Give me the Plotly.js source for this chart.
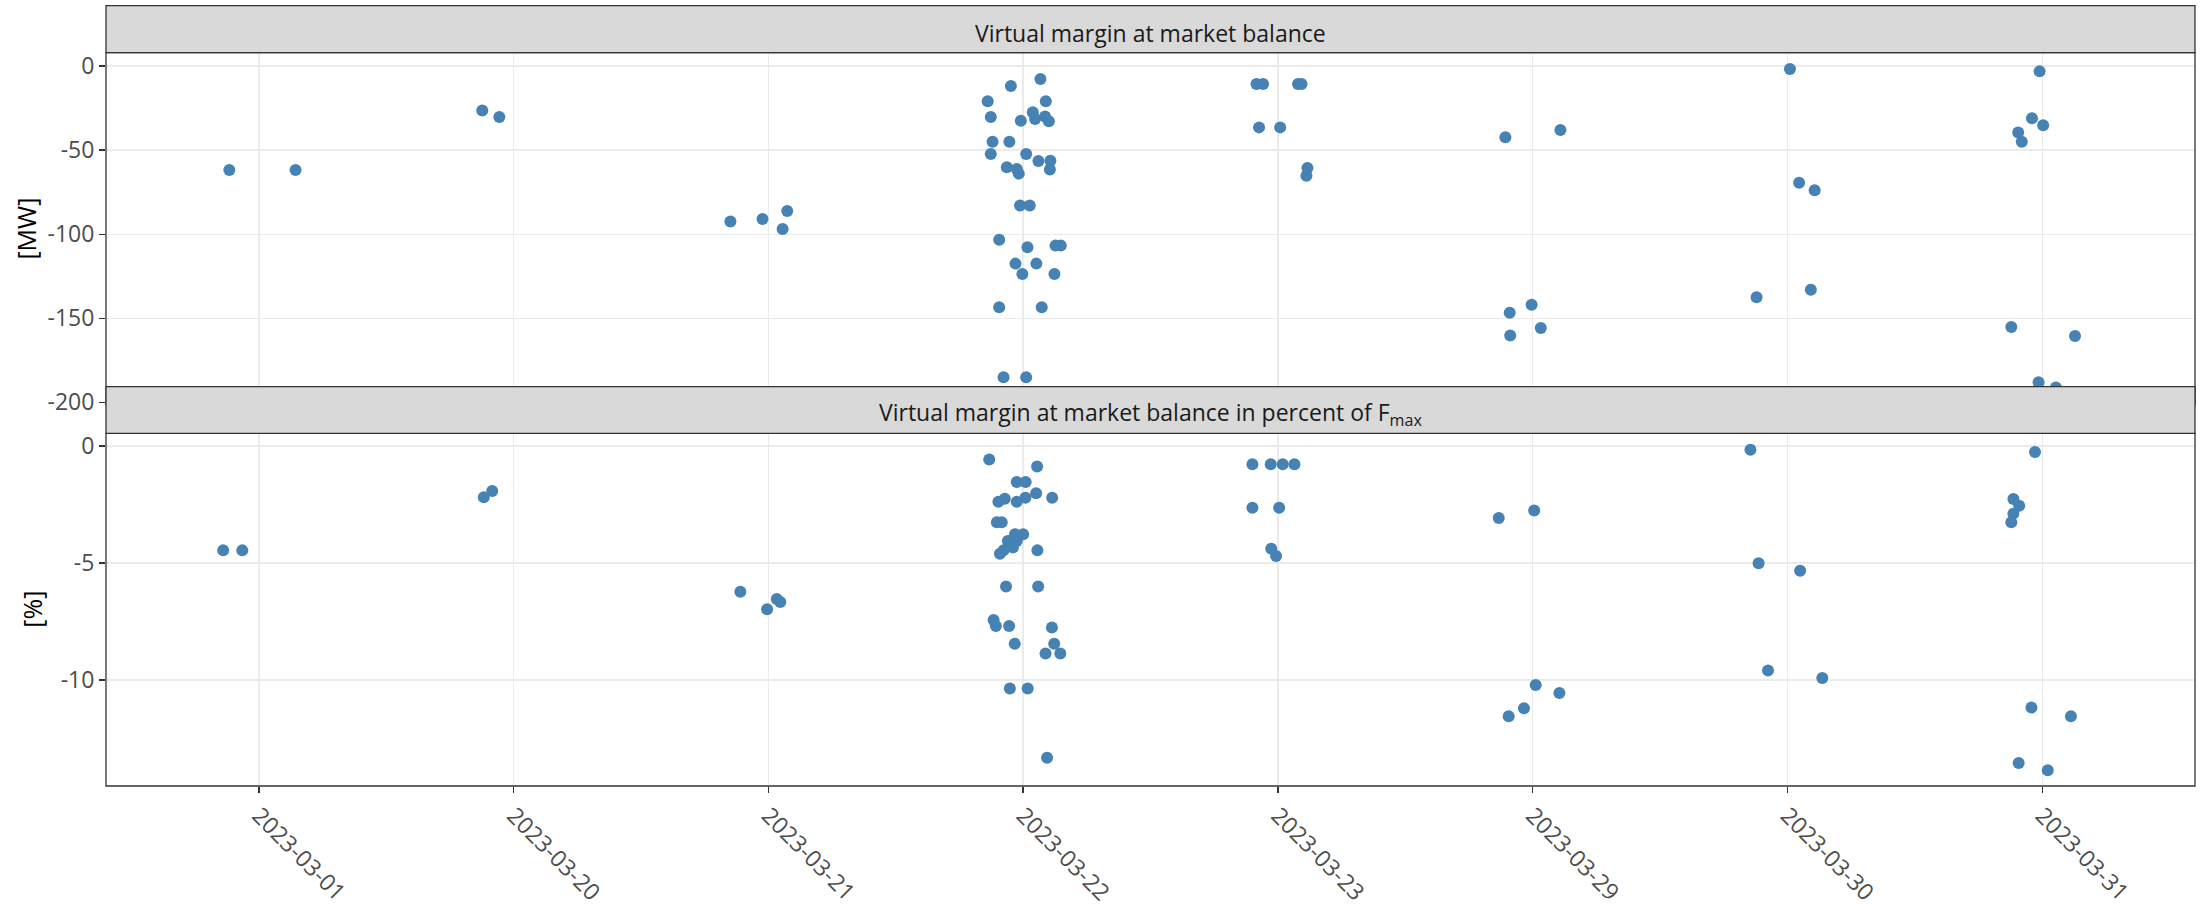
<!DOCTYPE html>
<html>
<head>
<meta charset="utf-8">
<script src="https://cdn.plot.ly/plotly-3.0.1.min.js"></script>
<style>
html, body { margin: 0; padding: 0; background: #ffffff; }
#chart { width: 2203px; height: 910px; }
</style>
</head>
<body>
<div id="chart"></div>
<script>
// ---- data ----
const categories = ["2023-03-01", "2023-03-20", "2023-03-21", "2023-03-22",
                    "2023-03-23", "2023-03-29", "2023-03-30", "2023-03-31"];
const pointsPerDay = [2, 2, 4, 34, 8, 6, 5, 9];

// Panel 1: virtual margin [MW] (horizontal jitter in category units)
const mwJitter = [
  -0.116, 0.144,
  -0.123, -0.056,
  -0.149, -0.023, 0.074, 0.056,
  0.068, -0.048, -0.139, 0.089, -0.127, 0.038, 0.047, -0.009, 0.086, 0.101,
  -0.120, -0.054, -0.127, 0.012, -0.064, -0.025, -0.017, 0.060, 0.107, 0.105,
  -0.012, 0.026, -0.094, 0.017, 0.127, 0.148, -0.030, 0.052, -0.003, 0.123,
  -0.094, 0.073, -0.077, 0.012,
  -0.084, -0.058, 0.079, 0.093, -0.074, 0.009, 0.116, 0.112,
  -0.107, 0.109, -0.090, -0.004, -0.088, 0.032,
  0.010, 0.046, 0.107, -0.121, 0.092,
  -0.010, -0.040, 0.004, -0.094, -0.080, -0.121, 0.129, -0.014, 0.054
];
const mwValue = [
  -61.8, -61.8,
  -26.4, -30.3,
  -92.4, -91.0, -86.2, -96.9,
  -7.7, -11.9, -21.0, -21.0, -30.3, -27.5, -31.5, -32.5, -30.1, -32.9,
  -45.0, -45.0, -52.3, -52.3, -60.2, -61.2, -64.0, -56.5, -56.3, -61.6,
  -83.0, -83.0, -103.3, -107.8, -106.8, -106.8, -117.5, -117.5, -123.7, -123.7,
  -143.5, -143.5, -185.1, -185.1,
  -10.7, -10.7, -10.7, -10.7, -36.5, -36.5, -60.6, -65.2,
  -42.4, -38.1, -146.7, -141.9, -160.3, -155.8,
  -1.8, -69.4, -73.9, -137.5, -133.0,
  -3.2, -31.1, -35.3, -39.6, -45.0, -155.2, -160.5, -188.1, -191.2
];

// Panel 2: virtual margin in percent of Fmax [%]
const pctJitter = [
  -0.140, -0.065,
  -0.117, -0.084,
  -0.110, -0.005, 0.033, 0.047,
  -0.133, 0.055, -0.025, 0.010, 0.051, 0.114, -0.072, -0.097, -0.025, 0.009,
  -0.103, -0.084, 0.000, -0.032, -0.060, -0.025, -0.047, -0.040, -0.077, -0.091,
  0.056, -0.067, 0.059, -0.116, -0.107, -0.055, 0.113, -0.033, 0.122, 0.088,
  0.146, -0.052, 0.018, 0.094,
  -0.100, -0.028, 0.019, 0.065, -0.100, 0.005, -0.026, -0.007,
  -0.133, 0.006, 0.012, 0.105, -0.034, -0.094,
  -0.145, -0.113, 0.050, -0.076, 0.137,
  -0.028, -0.113, -0.090, -0.113, -0.121, -0.042, 0.113, -0.092, 0.022
];
const pctValue = [
  -4.46, -4.46,
  -2.19, -1.92,
  -6.23, -6.98, -6.54, -6.67,
  -0.58, -0.88, -1.54, -1.54, -2.02, -2.21, -2.25, -2.38, -2.38, -2.21,
  -3.26, -3.26, -3.77, -3.77, -4.06, -4.06, -4.16, -4.34, -4.46, -4.60,
  -4.46, -6.00, -6.00, -7.44, -7.69, -7.69, -7.76, -8.45, -8.45, -8.87,
  -8.87, -10.36, -10.36, -13.32,
  -0.78, -0.78, -0.78, -0.78, -2.64, -2.64, -4.39, -4.70,
  -3.08, -2.76, -10.21, -10.56, -11.21, -11.55,
  -0.16, -5.01, -5.33, -9.59, -9.91,
  -0.26, -2.26, -2.55, -2.89, -3.26, -11.18, -11.55, -13.55, -13.86
];

const mwTicks = [0, -50, -100, -150, -200];
const pctTicks = [0, -5, -10];
const stripTitles = ["Virtual margin at market balance",
                     "Virtual margin at market balance in percent of F<sub>max</sub>"];
const yTitles = ["[MW]", "[%]"];

// ---- build x positions: category index + jitter ----
function jitteredX(jitter) {
  const xs = [];
  let k = 0;
  pointsPerDay.forEach(function (n, i) {
    for (let j = 0; j < n; j++) { xs.push(i + 1 + jitter[k]); k++; }
  });
  return xs;
}
const catIdx = categories.map(function (_, i) { return i + 1; });

const pointColor = "#4682b4";
const traces = [
  { type: "scatter", mode: "markers", x: jitteredX(mwJitter), y: mwValue,
    xaxis: "x", yaxis: "y", marker: { color: pointColor, size: 12 },
    hoverinfo: "skip", showlegend: false },
  { type: "scatter", mode: "markers", x: jitteredX(pctJitter), y: pctValue,
    xaxis: "x2", yaxis: "y2", marker: { color: pointColor, size: 12 },
    hoverinfo: "skip", showlegend: false }
];

// ---- geometry (paper fractions) ----
const topDom = [0.48486, 0.93295];
const botDom = [0, 0.44873];
const topStrip = [0.93295, 0.99275];
const botStrip = [0.44873, 0.50802];
const stripTextShift = -0.005;

const font = "Open Sans, sans-serif";
const tickFont = { family: font, size: 23, color: "#4d4d4d" };
const grid = "#ebebeb";
const dark = "#333333";

const xBase = {
  range: [0.4, 8.6], tickvals: catIdx, ticktext: categories,
  showgrid: true, gridcolor: grid, gridwidth: 1.3, zeroline: false,
  showline: false, fixedrange: true
};

const layout = {
  width: 2203, height: 910,
  margin: { l: 106, r: 8, t: 0, b: 124, pad: 0 },
  paper_bgcolor: "#ffffff", plot_bgcolor: "#ffffff",
  font: { family: font, color: "#000000" },
  showlegend: false,
  xaxis: Object.assign({}, xBase, { anchor: "y", domain: [0, 1], showticklabels: false, ticks: "" }),
  xaxis2: Object.assign({}, xBase, {
    anchor: "y2", domain: [0, 1], matches: "x", showticklabels: true,
    ticks: "outside", ticklen: 6, tickwidth: 1.3, tickcolor: dark,
    tickangle: 45, tickfont: tickFont
  }),
  yaxis: {
    anchor: "x", domain: topDom, range: [-201.5, 7.9],
    tickvals: mwTicks, ticktext: mwTicks.map(String),
    ticks: "outside", ticklen: 6, tickwidth: 1.3, tickcolor: dark, tickfont: tickFont,
    showgrid: true, gridcolor: grid, gridwidth: 1.3, zeroline: false, showline: false
  },
  yaxis2: {
    anchor: "x2", domain: botDom, range: [-14.53, 0.543],
    tickvals: pctTicks, ticktext: pctTicks.map(String),
    ticks: "outside", ticklen: 6, tickwidth: 1.3, tickcolor: dark, tickfont: tickFont,
    showgrid: true, gridcolor: grid, gridwidth: 1.3, zeroline: false, showline: false
  },
  shapes: [
    { type: "rect", xref: "paper", yref: "paper", x0: 0, x1: 1, y0: topDom[0], y1: topDom[1],
      line: { color: dark, width: 1.3 }, fillcolor: "rgba(0,0,0,0)", layer: "above" },
    { type: "rect", xref: "paper", yref: "paper", x0: 0, x1: 1, y0: botDom[0], y1: botDom[1],
      line: { color: dark, width: 1.3 }, fillcolor: "rgba(0,0,0,0)", layer: "above" },
    { type: "rect", xref: "paper", yref: "paper", x0: 0, x1: 1, y0: topStrip[0], y1: topStrip[1],
      line: { color: dark, width: 1.3 }, fillcolor: "#d9d9d9", layer: "above" },
    { type: "rect", xref: "paper", yref: "paper", x0: 0, x1: 1, y0: botStrip[0], y1: botStrip[1],
      line: { color: dark, width: 1.3 }, fillcolor: "#d9d9d9", layer: "above" }
  ],
  annotations: [
    { text: stripTitles[0], xref: "paper", yref: "paper", x: 0.5,
      y: (topStrip[0] + topStrip[1]) / 2 + stripTextShift,
      xanchor: "center", yanchor: "middle", showarrow: false,
      font: { family: font, size: 23, color: "#1a1a1a" } },
    { text: stripTitles[1], xref: "paper", yref: "paper", x: 0.5,
      y: (botStrip[0] + botStrip[1]) / 2 + stripTextShift,
      xanchor: "center", yanchor: "middle", showarrow: false,
      font: { family: font, size: 23, color: "#1a1a1a" } },
    { text: yTitles[0], xref: "paper", yref: "paper", x: -0.0384, y: (topDom[0] + topDom[1]) / 2,
      xanchor: "center", yanchor: "middle", textangle: -90, showarrow: false,
      font: { family: font, size: 25, color: "#000000" } },
    { text: yTitles[1], xref: "paper", yref: "paper", x: -0.0354, y: (botDom[0] + botDom[1]) / 2,
      xanchor: "center", yanchor: "middle", textangle: -90, showarrow: false,
      font: { family: font, size: 25, color: "#000000" } }
  ]
};

Plotly.newPlot("chart", traces, layout, { displayModeBar: false, staticPlot: true });
</script>
</body>
</html>
